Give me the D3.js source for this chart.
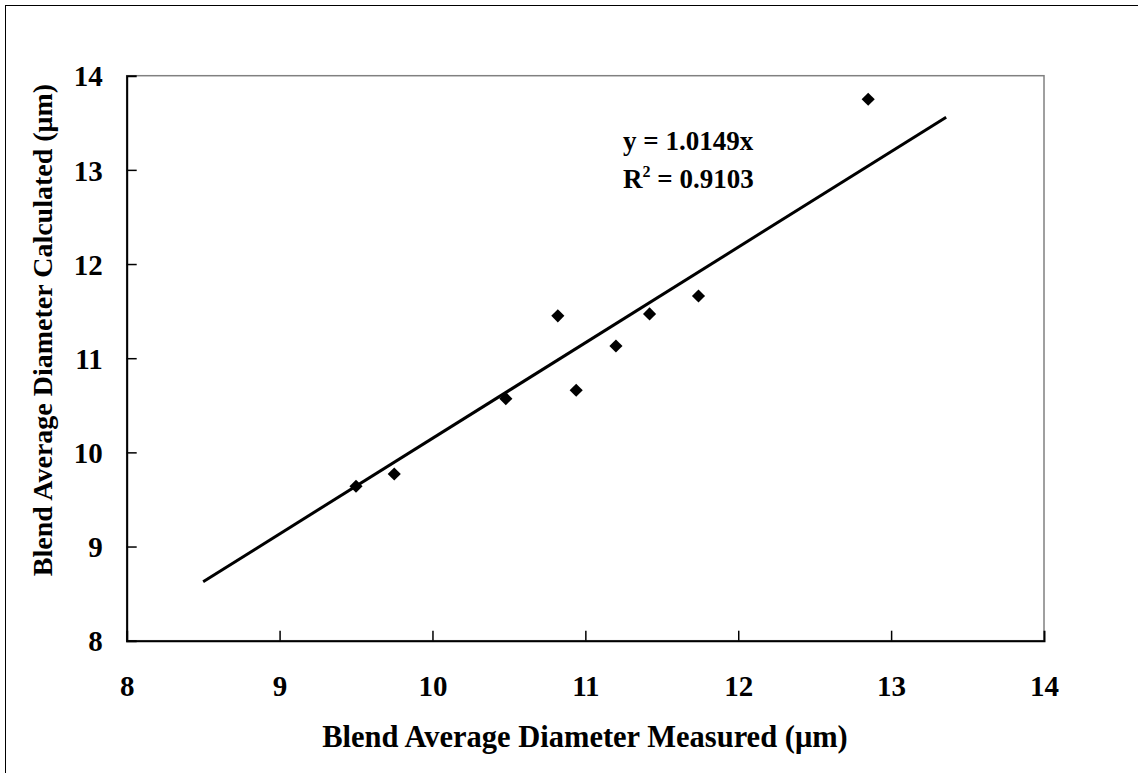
<!DOCTYPE html>
<html>
<head>
<meta charset="utf-8">
<script src="https://cdn.jsdelivr.net/npm/d3@7"></script>
<style>
  body { margin: 0; background: #fff; }
  text { font-family: "Liberation Serif", "Times New Roman", serif; font-weight: bold; fill: #000; }
</style>
</head>
<body>
<div id="chart"></div>
<script>
// measured vs calculated blend diameters
const measured = [9.50, 9.75, 10.48, 10.94, 10.82, 11.20, 11.42, 11.74, 12.85];
const calculated = [9.64, 9.77, 10.57, 10.66, 11.45, 11.13, 11.47, 11.66, 13.75];
const xTicks = [8, 9, 10, 11, 12, 13, 14];
const yTicks = [8, 9, 10, 11, 12, 13, 14];
const slope = 1.0149;
const trendRange = [8.5, 13.36];
const equationLines = ['y = 1.0149x', 'R', '2', ' = 0.9103'];

const width = 1138;
const height = 773;

const svg = d3.select('#chart').append('svg')
    .attr('width', width)
    .attr('height', height);

// outer chart frame (right and bottom fall outside the picture)
svg.append('rect')
    .attr('x', 5.5)
    .attr('y', 5.5)
    .attr('width', width + 20)
    .attr('height', height + 20)
    .attr('fill', 'none')
    .attr('stroke', '#000')
    .attr('stroke-width', 1);

const x = d3.scaleLinear().domain([8, 14]).range([126.7, 1044]);
const y = d3.scaleLinear().domain([8, 14]).range([640.7, 75.7]);

// plot area border
svg.append('rect')
    .attr('x', x(8))
    .attr('y', y(14))
    .attr('width', x(14) - x(8))
    .attr('height', y(8) - y(14))
    .attr('fill', 'none')
    .attr('stroke', '#808080')
    .attr('stroke-width', 1.5);

const fmt = d3.format('d');
const xAxis = svg.append('g')
    .attr('transform', `translate(0,${y(8)})`)
    .call(d3.axisBottom(x).tickValues(xTicks).tickFormat(fmt).tickSize(-10).tickPadding(35));
const yAxis = svg.append('g')
    .attr('transform', `translate(${x(8)},0)`)
    .call(d3.axisLeft(y).tickValues(yTicks).tickFormat(fmt).tickSize(-10).tickPadding(24));

[xAxis, yAxis].forEach(ax => {
    ax.select('.domain').attr('stroke', '#000').attr('stroke-width', 2);
    ax.selectAll('.tick line').attr('stroke', '#000').attr('stroke-width', 1.5);
    ax.selectAll('.tick text')
        .style('font-family', '"Liberation Serif", "Times New Roman", serif')
        .style('font-weight', 'bold')
        .style('font-size', '29px')
        .attr('fill', '#000');
});
xAxis.selectAll('.tick text').attr('dy', '0.71em');
yAxis.selectAll('.tick text').attr('dy', '0.35em');
// no tick marks at the plot corners
xAxis.selectAll('.tick line').filter(d => d === 8 || d === 14).remove();
yAxis.selectAll('.tick line').filter(d => d === 8 || d === 14).remove();

// trend line
svg.append('line')
    .attr('x1', x(trendRange[0]))
    .attr('y1', y(slope * trendRange[0]))
    .attr('x2', x(trendRange[1]))
    .attr('y2', y(slope * trendRange[1]))
    .attr('stroke', '#000')
    .attr('stroke-width', 3);

// data points
const diamond = d3.symbol().type(d3.symbolDiamond2).size(110);
svg.selectAll('.pt')
    .data(measured.map((m, i) => ({ m: m, c: calculated[i] })))
    .enter()
    .append('path')
    .attr('class', 'pt')
    .attr('d', diamond)
    .attr('transform', d => `translate(${x(d.m)},${y(d.c)})`)
    .attr('fill', '#000');

// equation label
const eq = svg.append('g').attr('transform', 'translate(623,150)');
eq.append('text')
    .style('font-size', '27px')
    .text(equationLines[0]);
const r2 = eq.append('text')
    .attr('y', 38)
    .style('font-size', '27px');
r2.append('tspan').text(equationLines[1]);
r2.append('tspan').attr('dy', -11).style('font-size', '16px').text(equationLines[2]);
r2.append('tspan').attr('dy', 11).text(equationLines[3]);

// axis titles
svg.append('text')
    .attr('x', 585)
    .attr('y', 747)
    .attr('text-anchor', 'middle')
    .style('font-size', '30.5px')
    .text('Blend Average Diameter Measured (μm)');

svg.append('text')
    .attr('transform', 'translate(52,330) rotate(-90)')
    .attr('text-anchor', 'middle')
    .style('font-size', '28px')
    .text('Blend Average Diameter Calculated (μm)');
</script>
</body>
</html>
